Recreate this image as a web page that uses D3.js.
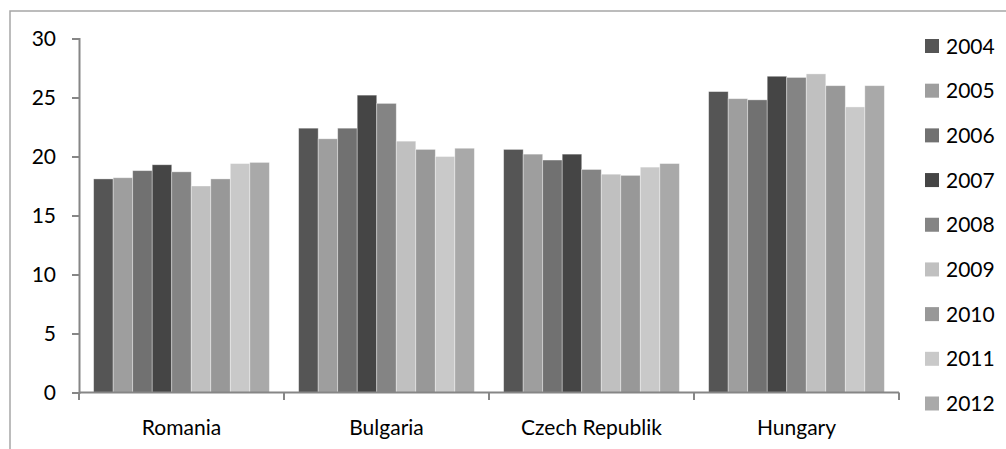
<!DOCTYPE html>
<html>
<head>
<meta charset="utf-8">
<script src="https://cdn.jsdelivr.net/npm/d3@7"></script>
<style>
  html, body { margin: 0; padding: 0; background: #fff; }
  svg { display: block; font-family: Lato, "Open Sans", sans-serif; }
</style>
</head>
<body>
<svg id="chart" width="1006" height="449"></svg>
<script>
// Countries along the horizontal axis
const countries = ["Romania", "Bulgaria", "Czech Republik", "Hungary"];
// One series per year
const years = ["2004", "2005", "2006", "2007", "2008", "2009", "2010", "2011", "2012"];
// Values per year, in country order
const v2004 = [18.1, 22.4, 20.6, 25.5];
const v2005 = [18.2, 21.5, 20.2, 24.9];
const v2006 = [18.8, 22.4, 19.7, 24.8];
const v2007 = [19.3, 25.2, 20.2, 26.8];
const v2008 = [18.7, 24.5, 18.9, 26.7];
const v2009 = [17.5, 21.3, 18.5, 27.0];
const v2010 = [18.1, 20.6, 18.4, 26.0];
const v2011 = [19.4, 20.0, 19.1, 24.2];
const v2012 = [19.5, 20.7, 19.4, 26.0];
const yTicks = [0, 5, 10, 15, 20, 25, 30];

const seriesValues = [v2004, v2005, v2006, v2007, v2008, v2009, v2010, v2011, v2012];
const colors = ["#555555", "#9e9e9e", "#717171", "#454545", "#848484",
                "#c0c0c0", "#989898", "#c9c9c9", "#a9a9a9"];

const svg = d3.select("#chart");

// outer frame
svg.append("path")
  .attr("d", "M10,460 V11 H1010")
  .attr("fill", "none")
  .attr("stroke", "#a6a6a6")
  .attr("stroke-width", 1.5);

const plot = { left: 79, right: 899, top: 38.5, bottom: 392.5 };

const x0 = d3.scaleBand().domain(countries).range([plot.left, plot.right]).paddingInner(0).paddingOuter(0);
const x1 = d3.scaleBand().domain(years).range([0, x0.bandwidth()]).paddingInner(0).paddingOuter(0.75);
const y = d3.scaleLinear().domain([0, 30]).range([plot.bottom, plot.top]);
const color = d3.scaleOrdinal().domain(years).range(colors);

// bars
const groups = svg.append("g").selectAll("g")
  .data(countries)
  .join("g")
  .attr("transform", d => `translate(${x0(d)},0)`);

groups.selectAll("rect")
  .data((c, ci) => years.map((yr, si) => ({ year: yr, value: seriesValues[si][ci] })))
  .join("rect")
  .attr("x", d => x1(d.year))
  .attr("width", x1.bandwidth())
  .attr("y", d => y(d.value))
  .attr("height", d => y(0) - y(d.value))
  .attr("fill", d => color(d.year))
  .attr("stroke", "rgba(255,255,255,0.45)")
  .attr("stroke-width", 0.8);

// y axis
const yAxis = svg.append("g")
  .attr("transform", `translate(${plot.left},0)`)
  .call(d3.axisLeft(y).tickValues(yTicks).tickSize(7).tickSizeOuter(7).tickPadding(16));
yAxis.select(".domain").attr("stroke", "#868686").attr("stroke-width", 2);
yAxis.selectAll(".tick line").attr("stroke", "#868686").attr("stroke-width", 2);
yAxis.selectAll(".tick text")
  .attr("fill", "#000")
  .attr("font-size", 21)
  .attr("font-family", "Lato, 'Open Sans', sans-serif");

// x axis: line, boundary ticks and centered labels
const xAxis = svg.append("g");
xAxis.append("line")
  .attr("x1", x0.range()[0]).attr("x2", x0.range()[1])
  .attr("y1", y(0)).attr("y2", y(0))
  .attr("stroke", "#868686").attr("stroke-width", 2);
const bounds = countries.map(c => x0(c)).concat([x0(countries[countries.length - 1]) + x0.bandwidth()]);
xAxis.selectAll("line.tick")
  .data(bounds)
  .join("line")
  .attr("class", "tick")
  .attr("x1", d => d).attr("x2", d => d)
  .attr("y1", y(0)).attr("y2", y(0) + 7.5)
  .attr("stroke", "#868686").attr("stroke-width", 2);
xAxis.selectAll("text")
  .data(countries)
  .join("text")
  .attr("x", d => x0(d) + x0.bandwidth() / 2)
  .attr("y", y(0) + 42)
  .attr("text-anchor", "middle")
  .attr("font-size", 21)
  .attr("fill", "#000")
  .text(d => d);

// legend
const legend = svg.append("g");
const ly = d3.scalePoint().domain(years).range([46, 403.5]);
const items = legend.selectAll("g")
  .data(years)
  .join("g")
  .attr("transform", d => `translate(925,${ly(d)})`);
items.append("rect")
  .attr("x", 0).attr("y", -7)
  .attr("width", 14).attr("height", 14)
  .attr("fill", d => color(d));
items.append("text")
  .attr("x", 21)
  .attr("y", 0)
  .attr("dy", "0.36em")
  .attr("font-size", 21)
  .attr("fill", "#000")
  .text(d => d);
</script>
</body>
</html>
